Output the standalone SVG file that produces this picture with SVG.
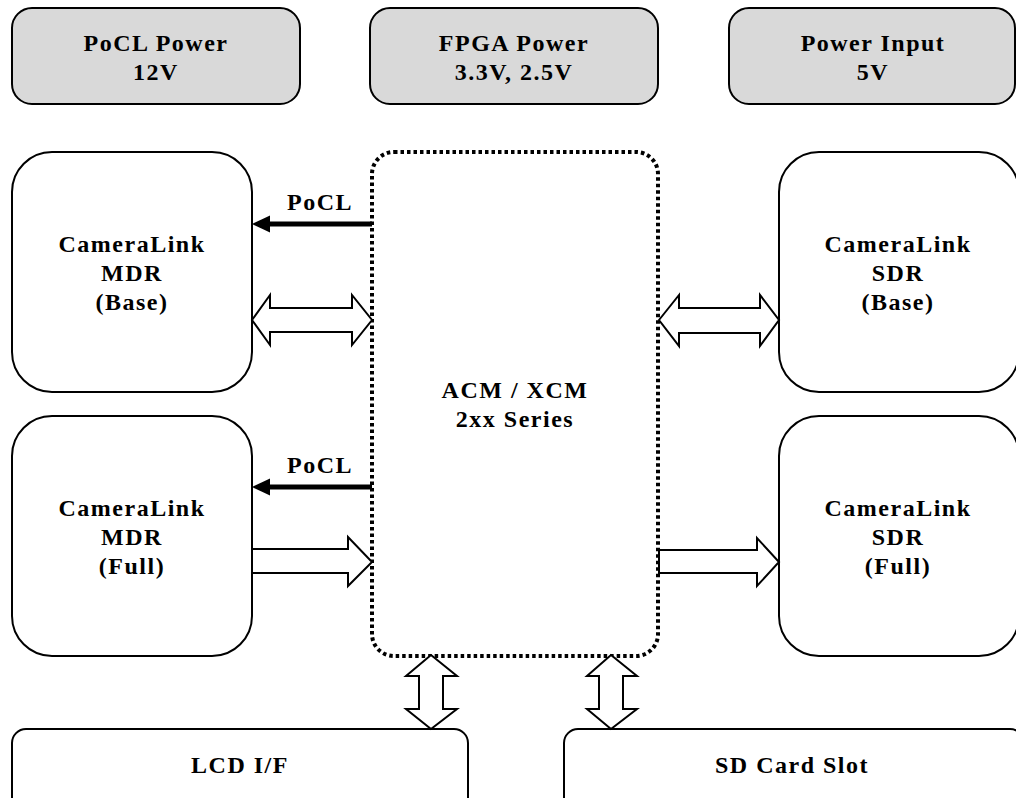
<svg xmlns="http://www.w3.org/2000/svg" width="1016" height="798" viewBox="0 0 1016 798">
<style>
.box{fill:#fff;stroke:#000;stroke-width:2}
.pwr{fill:#d9d9d9;stroke:#000;stroke-width:2}
.core{fill:#fff;stroke:#000;stroke-width:4;stroke-dasharray:3.5 3}
.bus{fill:#fff;stroke:#000;stroke-width:2;stroke-linejoin:miter}
.t{font-family:"Liberation Serif","Times New Roman",serif;font-weight:bold;font-size:24px;letter-spacing:1.5px;text-anchor:middle;fill:#000}
.pl{stroke:#000;stroke-width:5}
</style>
<rect width="1016" height="798" fill="#fff"/>
<g id="pocl-power"><rect class="pwr" x="12" y="8" width="288" height="96" rx="20"/><text class="t" x="156" y="51">PoCL Power</text><text class="t" x="156" y="80">12V</text></g>
<g id="fpga-power"><rect class="pwr" x="370" y="8" width="288" height="96" rx="20"/><text class="t" x="514" y="51">FPGA Power</text><text class="t" x="514" y="80">3.3V, 2.5V</text></g>
<g id="power-input"><rect class="pwr" x="729" y="8" width="286" height="96" rx="20"/><text class="t" x="873" y="51">Power Input</text><text class="t" x="873" y="80">5V</text></g>
<g id="mdr-base"><rect class="box" x="12" y="152" width="240" height="240" rx="40"/><text class="t" x="132" y="252">CameraLink</text><text class="t" x="132" y="281">MDR</text><text class="t" x="132" y="310">(Base)</text></g>
<g id="mdr-full"><rect class="box" x="12" y="416" width="240" height="240" rx="40"/><text class="t" x="132" y="516">CameraLink</text><text class="t" x="132" y="545">MDR</text><text class="t" x="132" y="574">(Full)</text></g>
<g id="sdr-base"><rect class="box" x="779" y="152" width="240" height="240" rx="40"/><text class="t" x="898" y="252">CameraLink</text><text class="t" x="898" y="281">SDR</text><text class="t" x="898" y="310">(Base)</text></g>
<g id="sdr-full"><rect class="box" x="779" y="416" width="240" height="240" rx="40"/><text class="t" x="898" y="516">CameraLink</text><text class="t" x="898" y="545">SDR</text><text class="t" x="898" y="574">(Full)</text></g>
<g id="core"><rect class="core" x="372" y="152" width="286" height="504" rx="22"/><text class="t" x="515" y="398">ACM / XCM</text><text class="t" x="515" y="427">2xx Series</text></g>
<g id="lcd"><rect class="box" x="12" y="729" width="456" height="100" rx="14"/><text class="t" x="240" y="773">LCD I/F</text></g>
<g id="sd"><rect class="box" x="564" y="729" width="460" height="100" rx="14"/><text class="t" x="792" y="773">SD Card Slot</text></g>
<g id="connectors">
<line class="pl" x1="372" y1="224" x2="268" y2="224"/><polygon points="252,224 270,215.5 270,232.5" fill="#000"/>
<text class="t" x="320" y="210">PoCL</text>
<line class="pl" x1="372" y1="487" x2="268" y2="487"/><polygon points="252,487 270,478.5 270,495.5" fill="#000"/>
<text class="t" x="320" y="473">PoCL</text>
<polygon class="bus" points="252,320 270,295 270,308 352,308 352,295 372,320 352,345 352,332 270,332 270,345"/>
<polygon class="bus" points="659,320 679,295 679,308 760,308 760,295 779,320 760,346 760,333 679,333 679,346"/>
<polygon class="bus" points="252,549 348,549 348,537 372,562 348,586 348,573 252,573"/>
<polygon class="bus" points="659,550 757,550 757,538 779,562 757,586 757,573 659,573"/>
<polygon class="bus" points="431,655 457,676 443,676 443,709 457,709 431,729 406,709 419,709 419,676 406,676"/>
<polygon class="bus" points="611,655 637,676 623,676 623,709 637,709 611,729 587,709 599,709 599,676 587,676"/>
</g>
</svg>
